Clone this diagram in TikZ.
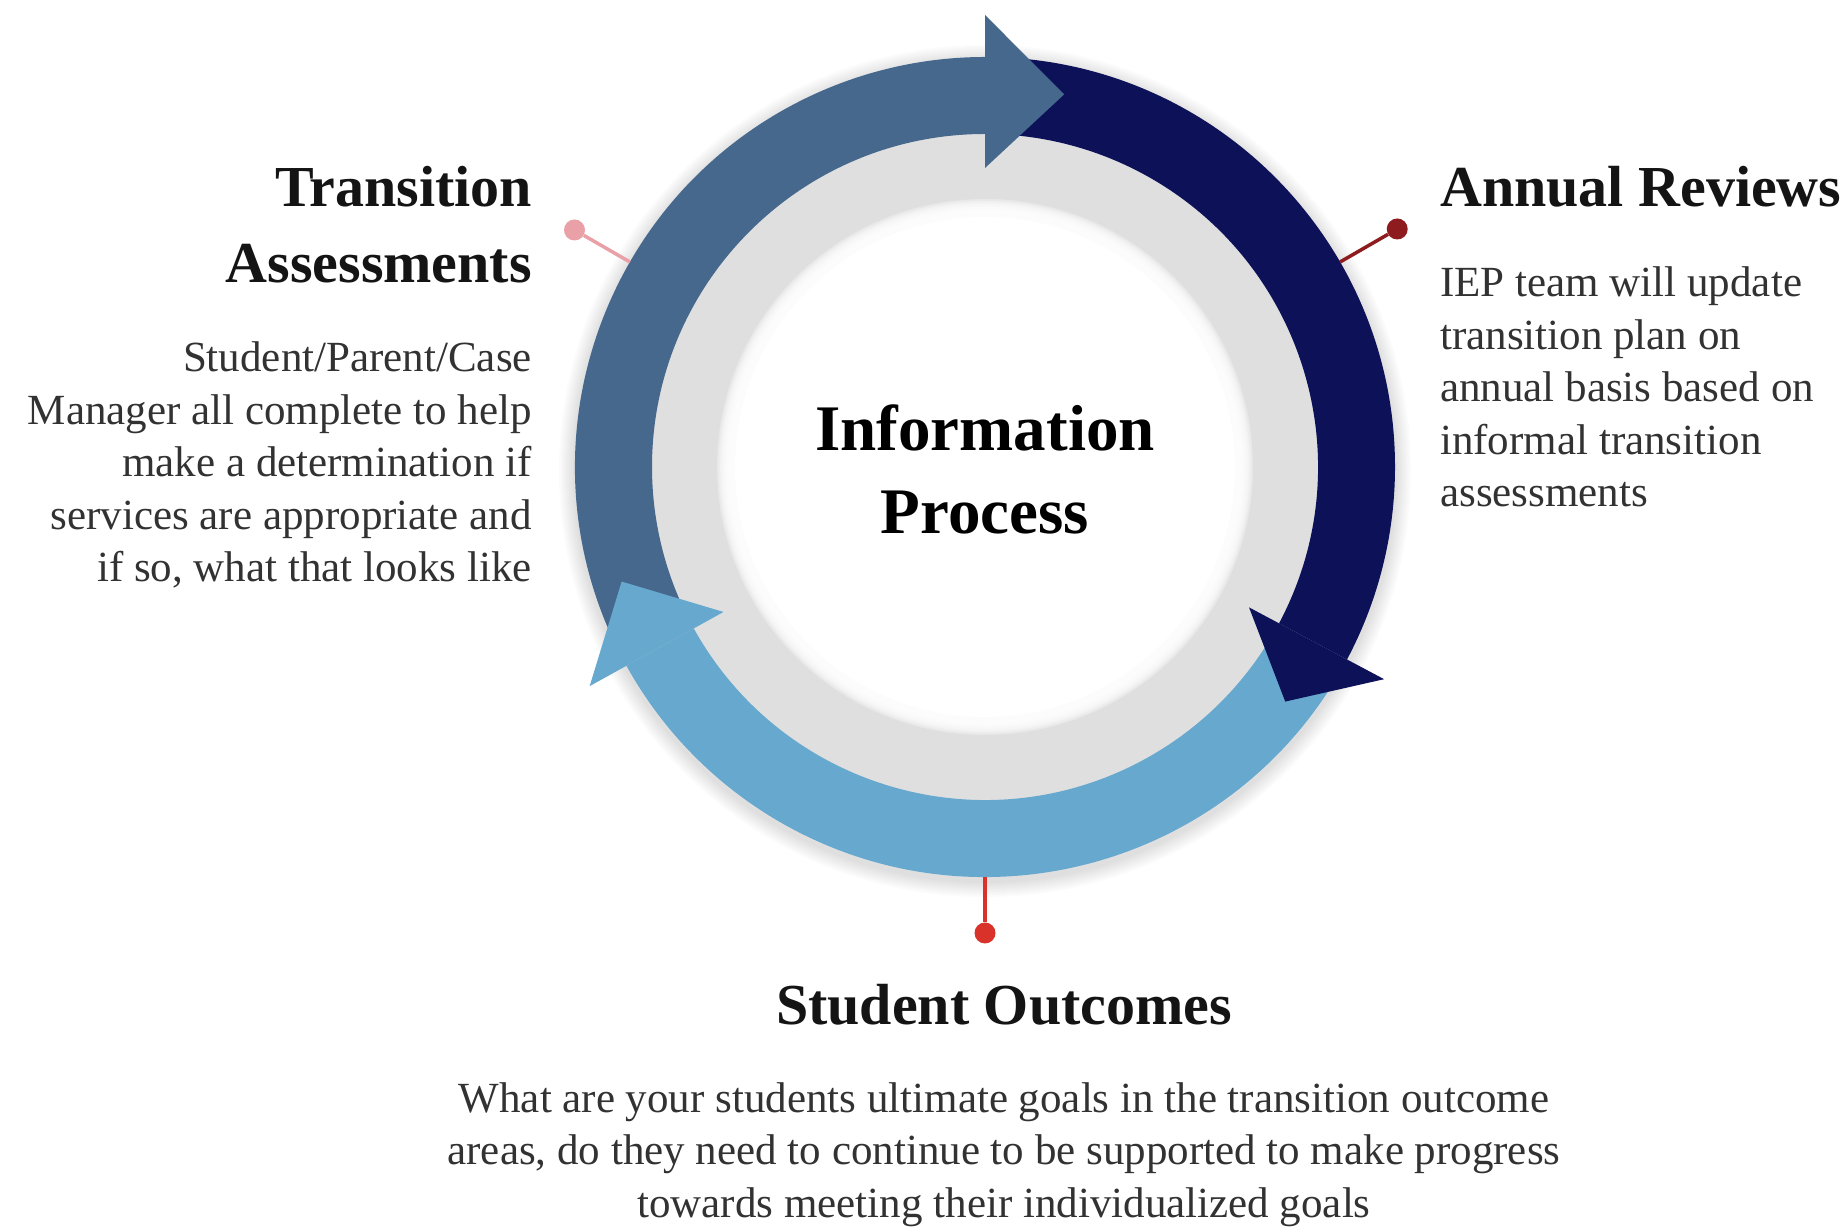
\documentclass[tikz,border=0pt]{standalone}
\usepackage{fontspec}
\setmainfont{Liberation Serif}
\usetikzlibrary{calc}

\definecolor{stepblue}{RGB}{70,104,140}
\definecolor{navyblue}{RGB}{12,17,88}
\definecolor{skyblue}{RGB}{102,168,206}
\definecolor{ringgray}{RGB}{223,223,224}
\definecolor{pinpink}{RGB}{233,160,166}
\definecolor{pindark}{RGB}{142,28,30}
\definecolor{pinred}{RGB}{216,50,43}
\definecolor{bodytext}{RGB}{50,50,50}

% shaft of a ring arrow: colour, start angle, end angle
\newcommand{\ringshaft}[3]{%
  \fill[#1,shift={(c)}] (#2:410) arc[start angle=#2,end angle=#3,radius=410]
    -- (#3:333) arc[start angle=#3,end angle=#2,radius=333] -- cycle;}
% head of a ring arrow: colour, base angle, tip angle
\newcommand{\ringhead}[3]{%
  \fill[#1,shift={(c)}] (#2:452) -- (#3:381) -- (#2:299) -- cycle;}

\begin{document}
\begin{tikzpicture}
[x=1pt,y=1pt,
 head/.style={font=\fontsize{58}{76}\selectfont\bfseries,text=black!92,inner sep=0},
 body/.style={font=\fontsize{43}{52.5}\selectfont,text=bodytext,inner sep=0},
 pindot/.style={circle,minimum size=21,inner sep=0},
 pinline/.style={line width=3.5pt}]

\useasboundingbox (0,0) rectangle (1847,1226);
\coordinate (c) at (985,759);

% soft shadow and grey ring
\foreach \k in {1,...,8}
  \fill[black,opacity=0.014] ($(c)+(0,-4)$) circle ({410+2*\k});
\fill[ringgray] (c) circle (345);
\foreach \k in {0,...,9}
  \fill[white,opacity=0.3] (c) circle ({268-1.6*\k});
\fill[white] (c) circle (250);

% the three arrows
\ringshaft{stepblue}{207}{90}
\ringshaft{navyblue}{88}{-28}
\ringshaft{skyblue}{-30}{-151}
\ringhead{stepblue}{90}{78}
\ringhead{navyblue}{-28}{-38}
\ringhead{skyblue}{209}{197.5}

% pins
\path (c) ++(150:410) coordinate (ta-ring) ++(150:64) node[pindot,fill=pinpink] (ta-dot) {};
\path (c) ++(30:410) coordinate (ar-ring) ++(30:66) node[pindot,fill=pindark] (ar-dot) {};
\path (c) ++(270:410) coordinate (so-ring) ++(270:56) node[pindot,fill=pinred] (so-dot) {};
\draw[pinline,pinpink] (ta-ring) -- (ta-dot);
\draw[pinline,pindark] (ar-ring) -- (ar-dot);
\draw[pinline,pinred] (so-ring) -- (so-dot);

\node[font=\fontsize{65}{83}\selectfont\bfseries,align=center,anchor=base,inner sep=0] (ip) at (985,692) {Information\\Process};

\node[head,align=right,anchor=base east] (ta-title) at (532,943) {Transition\\Assessments};
\node[body,align=right,anchor=base east] (ta-text) at (532,644) {Student/Parent/Case\\Manager all complete to help\\make a determination if\\services are appropriate and\\if so, what that looks like};

\node[head,anchor=base west] (ar-title) at (1440,1019) {Annual Reviews};
\node[body,align=left,anchor=base west] (ar-text) at (1440,719) {IEP team will update\\transition plan on\\annual basis based on\\informal transition\\assessments};

\node[head,anchor=base] (so-title) at (1004,201) {Student Outcomes};
\node[body,align=center,anchor=base] (so-text) at (1004,9) {What are your students ultimate goals in the transition outcome\\areas, do they need to continue to be supported to make progress\\towards meeting their individualized goals};
\end{tikzpicture}
\end{document}
